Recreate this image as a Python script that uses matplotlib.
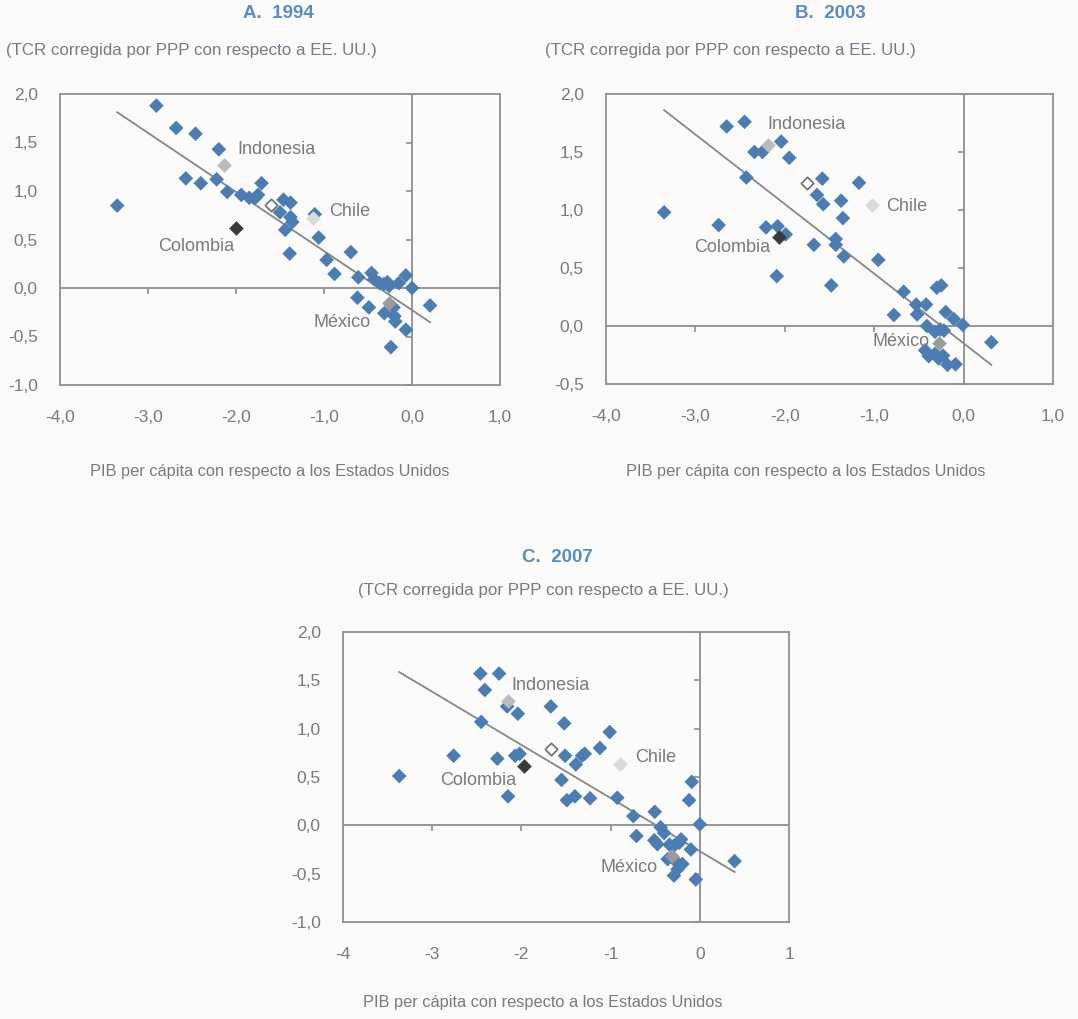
import matplotlib
matplotlib.use("Agg")
import matplotlib.pyplot as plt
import numpy as np
from matplotlib.ticker import FuncFormatter, MultipleLocator

plt.rcParams['font.family'] = ['Liberation Sans', 'DejaVu Sans']

# ---- data ----
# A. 1994
x_a = [-3.35, -2.905, -2.68, -2.46, -2.195, -2.57, -2.40, -2.22, -2.10, -1.94, -1.85, -1.78,
       -1.75, -1.71, -1.46, -1.38, -1.50, -1.38, -1.36, -1.44, -1.39, -1.105, -1.06, -0.97,
       -0.88, -0.695, -0.61, -0.62, -0.49, -0.46, -0.43, -0.37, -0.32, -0.28, -0.26, -0.15,
       -0.07, 0.0, -0.315, -0.21, -0.20, -0.19, -0.07, -0.24, 0.205]
y_a = [0.85, 1.88, 1.65, 1.59, 1.43, 1.13, 1.08, 1.12, 0.99, 0.96, 0.93, 0.93,
       0.96, 1.08, 0.91, 0.88, 0.78, 0.73, 0.68, 0.60, 0.355, 0.76, 0.52, 0.29,
       0.145, 0.37, 0.11, -0.10, -0.20, 0.155, 0.09, 0.05, 0.04, 0.06, 0.02, 0.05,
       0.13, 0.0, -0.26, -0.20, -0.29, -0.345, -0.43, -0.61, -0.18]
special_a = {'Indonesia': (-2.14, 1.27), 'Chile': (-1.13, 0.72),
             'Colombia': (-2.00, 0.62), 'México': (-0.26, -0.155), 'open': (-1.60, 0.86)}
trend_a = (-0.609, -0.228)   # slope, intercept

# B. 2003
x_b = [-3.35, -2.74, -2.65, -2.45, -2.34, -2.25, -2.04, -1.95, -2.43, -2.21, -2.08, -1.99,
       -2.09, -1.58, -1.64, -1.57, -1.675, -1.48, -1.43, -1.43, -1.37, -1.35, -1.34, -1.17,
       -0.955, -0.67, -0.78, -0.53, -0.52, -0.42, -0.41, -0.30, -0.25, -0.20, -0.11, -0.01,
       -0.32, -0.26, -0.22, -0.43, -0.39, -0.32, -0.28, -0.23, -0.18, -0.09, 0.31]
y_b = [0.98, 0.87, 1.72, 1.76, 1.50, 1.50, 1.59, 1.45, 1.28, 0.85, 0.86, 0.79,
       0.43, 1.27, 1.13, 1.05, 0.70, 0.35, 0.75, 0.70, 1.08, 0.93, 0.60, 1.235,
       0.57, 0.295, 0.095, 0.185, 0.10, 0.185, 0.0, 0.33, 0.35, 0.12, 0.06, 0.01,
       -0.05, -0.03, -0.04, -0.21, -0.26, -0.24, -0.28, -0.255, -0.335, -0.33, -0.14]
special_b = {'Indonesia': (-2.19, 1.56), 'Chile': (-1.025, 1.045),
             'Colombia': (-2.065, 0.77), 'México': (-0.28, -0.15), 'open': (-1.75, 1.23)}
trend_b = (-0.60, -0.149)

# C. 2007
x_c = [-3.37, -2.76, -2.46, -2.25, -2.41, -2.45, -2.27, -2.15, -2.16, -2.04, -2.07, -2.02,
       -1.67, -1.52, -1.51, -1.55, -1.49, -1.40, -1.39, -1.32, -1.29, -1.23, -1.12, -1.01,
       -0.925, -0.745, -0.71, -0.505, -0.44, -0.40, -0.51, -0.475, -0.34, -0.29, -0.23, -0.21,
       -0.36, -0.27, -0.25, -0.29, -0.195, -0.10, -0.09, -0.12, 0.0, -0.045, 0.39]
y_c = [0.51, 0.72, 1.57, 1.57, 1.40, 1.07, 0.69, 0.30, 1.23, 1.155, 0.72, 0.74,
       1.23, 1.055, 0.72, 0.47, 0.26, 0.30, 0.63, 0.72, 0.74, 0.28, 0.80, 0.965,
       0.285, 0.095, -0.11, 0.14, -0.02, -0.08, -0.155, -0.195, -0.20, -0.21, -0.18, -0.145,
       -0.35, -0.37, -0.455, -0.52, -0.40, -0.25, 0.45, 0.26, 0.01, -0.56, -0.37]
special_c = {'Indonesia': (-2.15, 1.29), 'Chile': (-0.89, 0.63),
             'Colombia': (-1.97, 0.61), 'México': (-0.31, -0.32), 'open': (-1.67, 0.79)}
trend_c = (-0.55, -0.268)

# label anchor (left x, centre y) for the country names
labels_a = {'Indonesia': (-1.98, 1.43), 'Chile': (-0.94, 0.79), 'Colombia': (-2.89, 0.43), 'México': (-1.12, -0.36)}
labels_b = {'Indonesia': (-2.19, 1.74), 'Chile': (-0.87, 1.03), 'Colombia': (-3.01, 0.68), 'México': (-1.02, -0.135)}
labels_c = {'Indonesia': (-2.11, 1.45), 'Chile': (-0.72, 0.70), 'Colombia': (-2.91, 0.465), 'México': (-1.11, -0.44)}

subtitle = '(TCR corregida por PPP con respecto a EE. UU.)'
xlabel = 'PIB per cápita con respecto a los Estados Unidos'

BLUE = '#4c7db2'
GRID = '#8e8e8e'
TXT = '#7a7a7a'
BG = '#fafbf8'
special_style = {'Indonesia': ('#b9bbbd', '#b9bbbd'), 'Chile': ('#d9dad8', '#d9dad8'),
                 'Colombia': ('#3b3b3b', '#3b3b3b'), 'México': ('#9a9a9a', '#9a9a9a'),
                 'open': (BG, '#6e6e6e')}

W, H = 1078, 1019
fig = plt.figure(figsize=(W / 100, H / 100), dpi=100, facecolor=BG)


def panel(rect, xs, ys, special, trend, labels, ylim, xfmt):
    l, t, r, b = rect
    ax = fig.add_axes([l / W, 1 - b / H, (r - l) / W, (b - t) / H], facecolor=BG)
    ax.set_xlim(-4, 1)
    ax.set_ylim(*ylim)
    for s in ax.spines.values():
        s.set_color(GRID)
        s.set_linewidth(1.3)
    ax.axhline(0, color=GRID, lw=1.3, zorder=1)
    ax.axvline(0, color=GRID, lw=1.3, zorder=1)
    ax.xaxis.set_major_locator(MultipleLocator(1))
    ax.yaxis.set_major_locator(MultipleLocator(0.5))
    ax.tick_params(length=0, labelsize=12.5, labelcolor=TXT)
    ax.tick_params(axis='x', pad=18)
    ax.tick_params(axis='y', pad=16)
    ax.xaxis.set_major_formatter(FuncFormatter(xfmt))
    ax.yaxis.set_major_formatter(FuncFormatter(lambda v, p: f'{v:.1f}'.replace('.', ',')))
    # little tick marks on the zero lines
    xt = np.arange(-3, 1)
    yt = np.arange(ylim[0], ylim[1] + 0.01, 0.5)
    ax.plot(xt, np.zeros(len(xt)), ls='none', marker=3, ms=4, mec=GRID, mew=1.2, zorder=1)
    ax.plot(np.zeros(len(yt)), yt, ls='none', marker=0, ms=4, mec=GRID, mew=1.2, zorder=1)

    ax.scatter(xs, ys, marker='D', s=56, color=BLUE, edgecolors='none', zorder=3)
    for k, (px, py) in special.items():
        fc, ec = special_style[k]
        ax.scatter([px], [py], marker='D', s=40 if k == 'open' else 56, facecolor=fc,
                   edgecolors=ec, linewidths=1.2 if k == 'open' else 0, zorder=4)
    slope, icpt = trend
    xx = np.array([min(xs), max(xs)])
    ax.plot(xx, slope * xx + icpt, color='#868686', lw=1.3, zorder=2)
    for k, (lx, ly) in labels.items():
        ax.text(lx, ly, k, fontsize=13, color=TXT, ha='left', va='center', zorder=5)
    return ax


fmt1 = lambda v, p: f'{v:.1f}'.replace('.', ',')
fmt0 = lambda v, p: f'{v:.0f}'

panel((60, 94, 500, 385), x_a, y_a, special_a, trend_a, labels_a, (-1, 2), fmt1)
panel((606, 94, 1053, 384), x_b, y_b, special_b, trend_b, labels_b, (-0.5, 2), fmt1)
panel((343, 632, 789, 922), x_c, y_c, special_c, trend_c, labels_c, (-1, 2), fmt0)

TITLE = '#5a8cc4'
for xp, yp, title in [(278, 14, 'A.  1994'), (830, 14, 'B.  2003'), (557, 558, 'C.  2007')]:
    fig.text(xp / W, 1 - yp / H, title, ha='center', va='center', fontsize=13.5,
             fontweight='bold', color=TITLE)

fig.text(6 / W, 1 - 50 / H, subtitle, ha='left', va='center', fontsize=12.2, color=TXT)
fig.text(545 / W, 1 - 50 / H, subtitle, ha='left', va='center', fontsize=12.2, color=TXT)
fig.text(543 / W, 1 - 591 / H, subtitle, ha='center', va='center', fontsize=12.2, color=TXT)

fig.text(270 / W, 1 - 471 / H, xlabel, ha='center', va='center', fontsize=11.8, color=TXT)
fig.text(806 / W, 1 - 471 / H, xlabel, ha='center', va='center', fontsize=11.8, color=TXT)
fig.text(543 / W, 1 - 1003 / H, xlabel, ha='center', va='center', fontsize=11.8, color=TXT)

fig.savefig('out.png', dpi=100, facecolor=BG)
